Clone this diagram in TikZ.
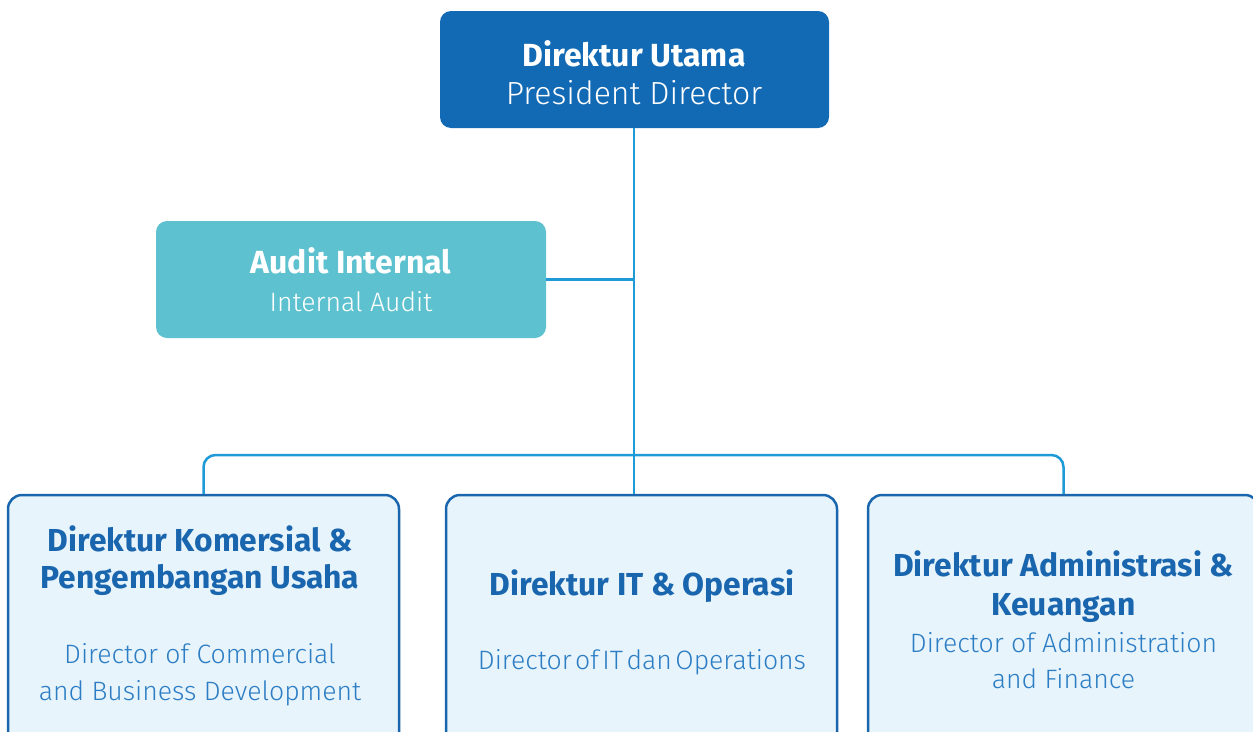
\documentclass[tikz,border=0pt]{standalone}
\usepackage{fontspec}
\setmainfont{Fira Sans}
\newfontfamily\firalight{Fira Sans Light}
\usetikzlibrary{positioning}
\definecolor{topblue}{HTML}{1269B4}
\definecolor{auditc}{HTML}{5EC1D0}
\definecolor{linec}{HTML}{1E9AD6}
\definecolor{boxborder}{HTML}{1A66AE}
\definecolor{boxfill}{HTML}{E7F4FC}
\definecolor{lighttext}{HTML}{2C7DC3}
\tikzset{
  px/.style={x=1pt,y=-1pt},
  conn/.style={draw=linec,line width=2.5pt,rounded corners=12pt},
  topbox/.style={fill=topblue,rounded corners=11pt,inner sep=0pt,minimum width=389pt,minimum height=117pt},
  auditbox/.style={fill=auditc,rounded corners=11pt,inner sep=0pt,minimum width=390pt,minimum height=117pt},
  dirbox/.style={draw=boxborder,fill=boxfill,line width=2.5pt,rounded corners=14pt,inner sep=0pt,minimum width=391pt,minimum height=260pt},
  boldw/.style={anchor=base,text=white,font=\bfseries\fontsize{32}{38}\selectfont,inner sep=0pt},
  lightw/.style={anchor=base,text=white,font=\firalight\fontsize{32}{38}\selectfont,inner sep=0pt},
  boldb/.style={anchor=base,text=boxborder,font=\bfseries\fontsize{31.8}{38}\selectfont,inner sep=0pt},
  lightb/.style={anchor=base,text=lighttext,font=\firalight\fontsize{26.6}{32}\selectfont,inner sep=0pt},
}
\begin{document}
\begin{tikzpicture}[px]
\useasboundingbox (0,0) rectangle (1253,731);
\clip (0,0) rectangle (1253,731);
% boxes
\node[topbox] (pd) at (634.5,69.5) {};
\node[auditbox] (ia) at (351,279.5) {};
\node[dirbox] (d1) at (203.5,625) {};
\node[dirbox] (d2) at (641.5,625) {};
\node[dirbox] (d3) at (1063.5,625) {};
% connectors
\coordinate (junc) at (634,279.5);
\coordinate (bus) at (634,455);
\draw[conn] (pd.south -| junc) -- (d2.north -| junc);
\draw[conn] (ia.east) -- (junc);
\draw[conn] (d1.north) -- (d1.north |- bus) -- (d3.north |- bus) -- (d3.north);
% texts
\node[boldw] (t1) at (634,66) {Direktur Utama};
\node[lightw] (t2) at (634,104) {President Director};
\node[boldw] (t3) at (351,273.5) {Audit Internal};
\node[lightw,font=\firalight\fontsize{26.6}{32}\selectfont] (t4) at (351,311) {Internal Audit};
\node[boldb] (a1) at (200,551) {Direktur Komersial \&};
\node[boldb] (a2) at (200,588.7) {Pengembangan Usaha};
\node[lightb] (a3) at (200,663.7) {Director of Commercial};
\node[lightb] (a4) at (200,700) {and Business Development};
\node[boldb] (b1) at (642,595) {Direktur IT \& Operasi};
\node[lightb] (b2) at (642,669) {Director\hspace{3.5pt}of\hspace{3.5pt}IT\hspace{3.5pt}dan\hspace{3.5pt}Operations};
\node[boldb] (c1) at (1063.5,576.7) {Direktur Administrasi \&};
\node[boldb] (c2) at (1063.5,615) {Keuangan};
\node[lightb] (c3) at (1063.5,652) {Director of Administration};
\node[lightb] (c4) at (1063.5,688.3) {and Finance};
\end{tikzpicture}
\end{document}
